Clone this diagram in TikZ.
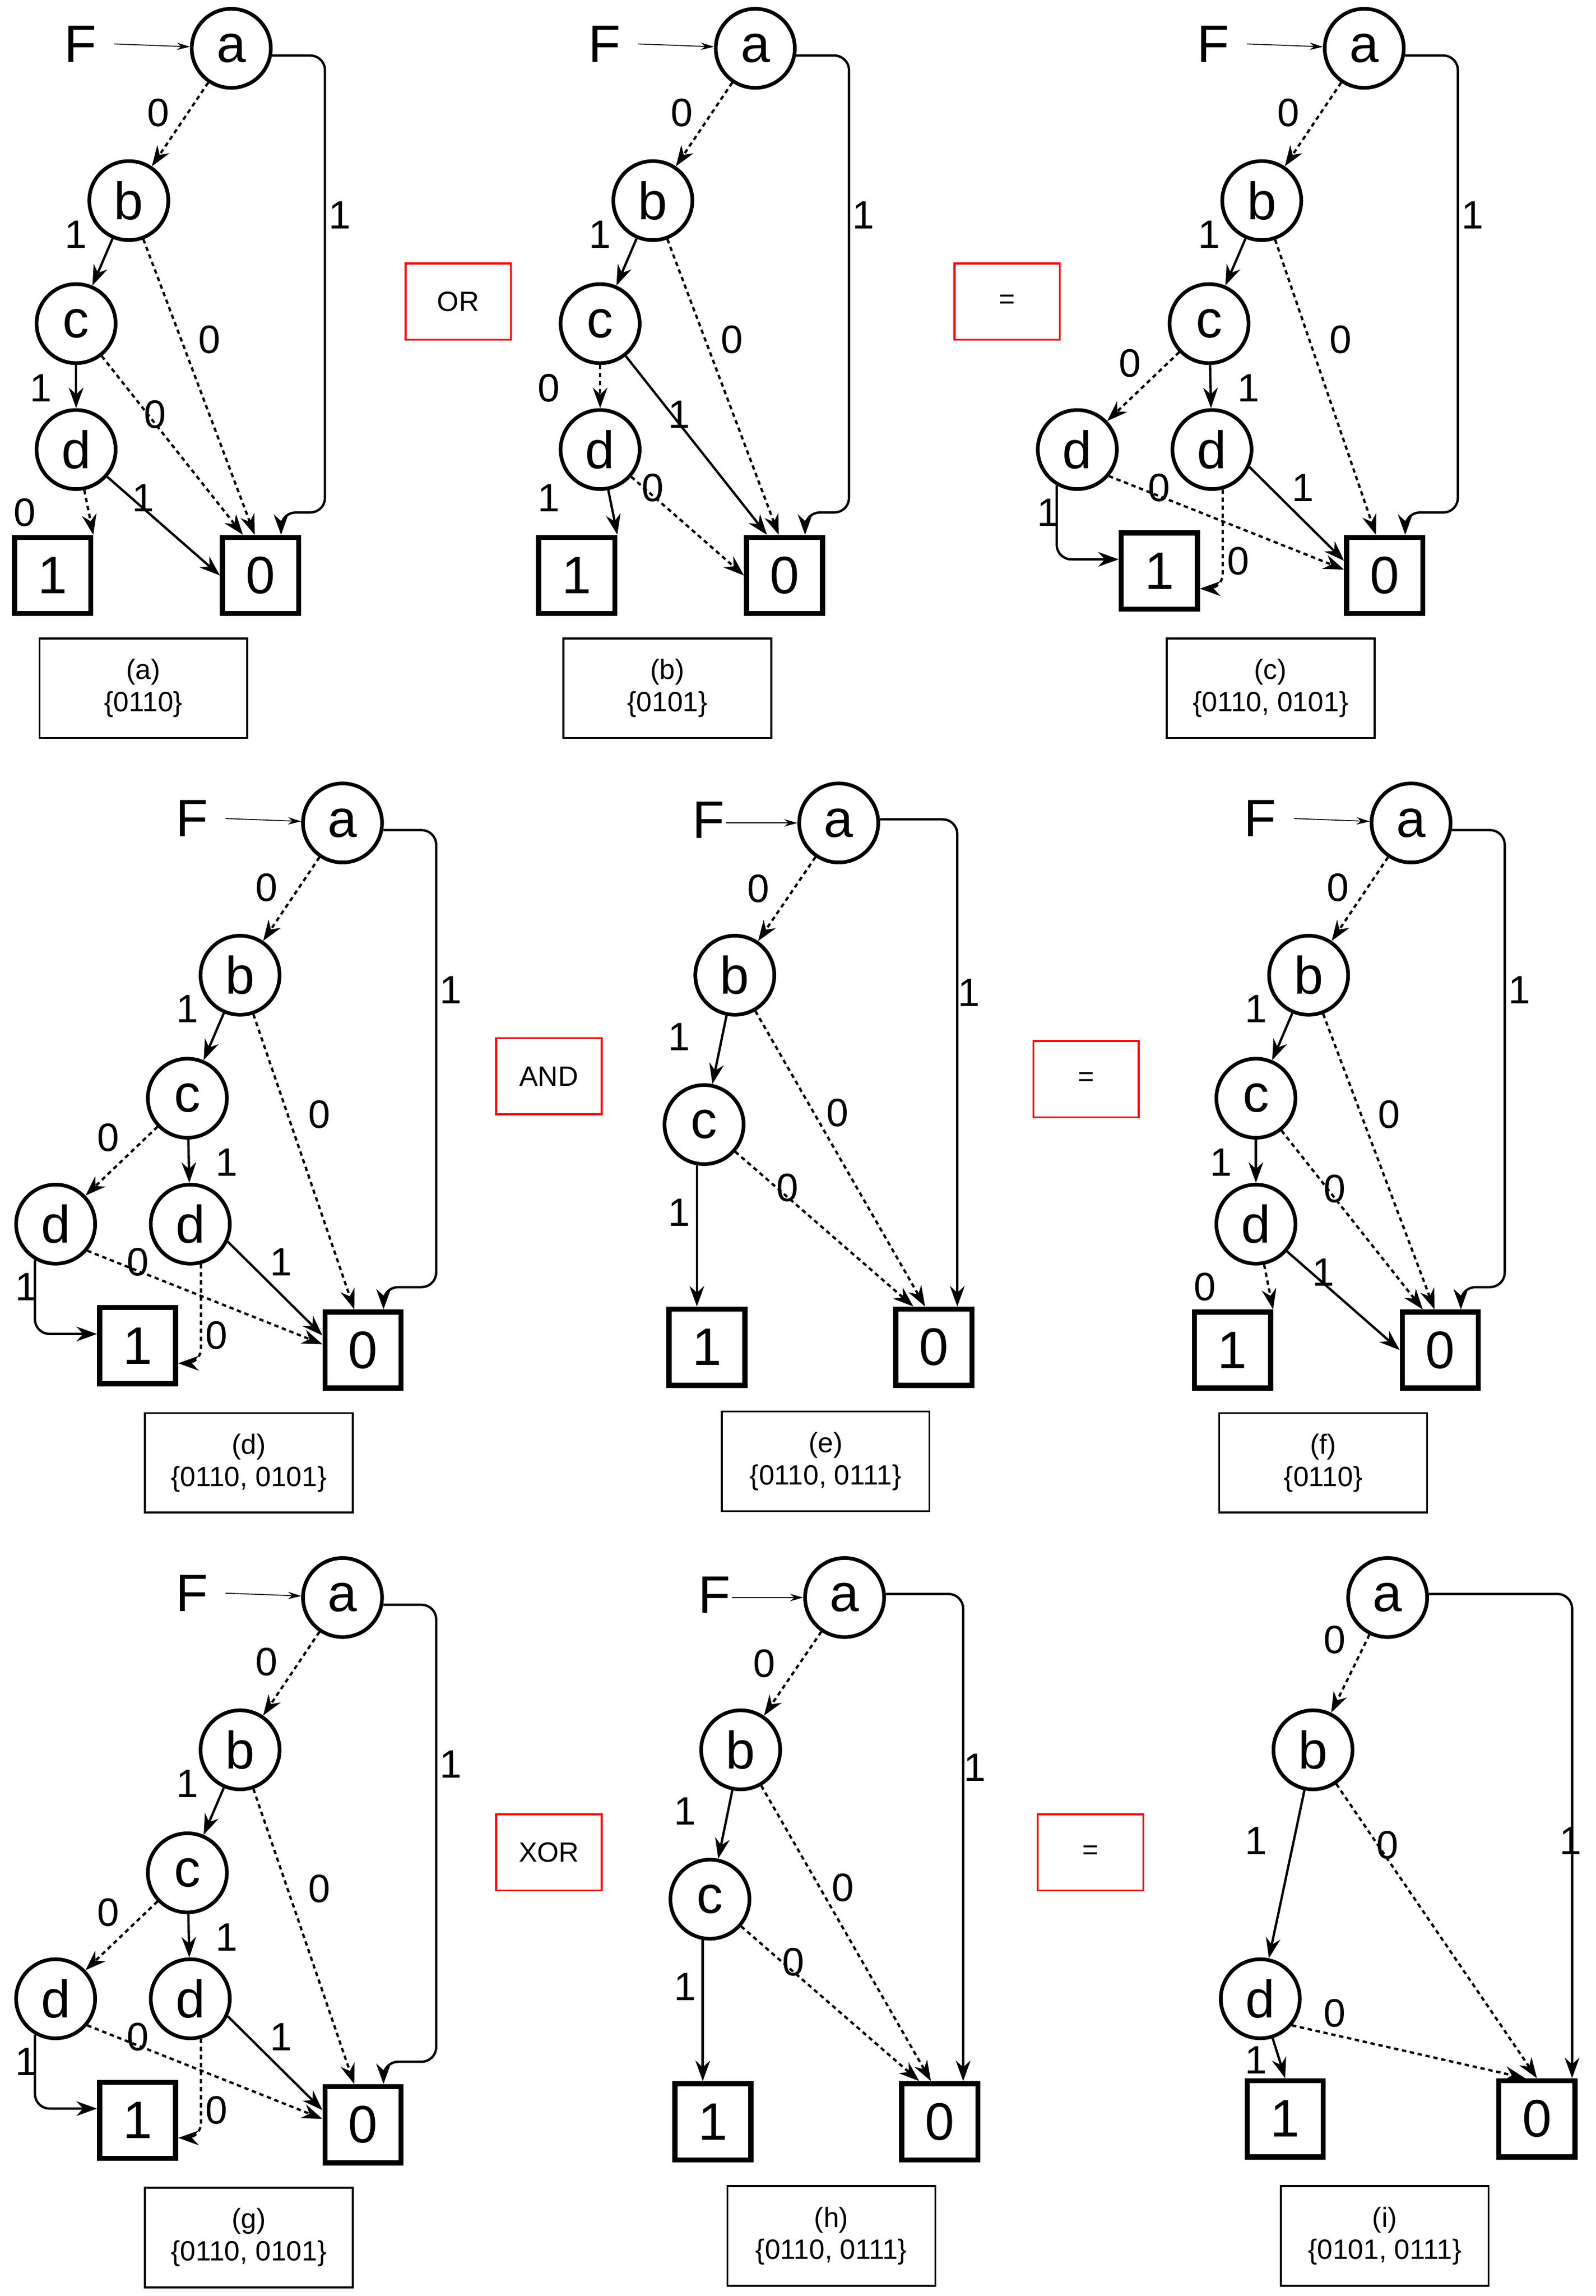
\documentclass[tikz,border=0pt]{standalone}
\usepackage{fontspec}
\setmainfont{Liberation Sans}
\usetikzlibrary{arrows.meta,calc}
\begin{document}
\begin{tikzpicture}[x=1pt,y=-1pt,
 v/.style={circle,draw,line width=2.5pt,minimum size=54pt,inner sep=0pt,font=\fontsize{36}{36}\selectfont},
 t/.style={rectangle,draw,line width=3.5pt,minimum size=52pt,inner sep=0pt,font=\fontsize{36}{36}\selectfont},
 lb/.style={inner sep=1pt,font=\fontsize{27}{27}\selectfont},
 Fl/.style={inner sep=1pt,font=\fontsize{36}{36}\selectfont},
 cbox/.style={draw,line width=1.3pt,minimum width=142pt,minimum height=68pt,align=center,font=\fontsize{19}{22}\selectfont},
 op/.style={draw=red,line width=1.3pt,minimum width=72pt,minimum height=52pt,font=\fontsize{19}{19}\selectfont},
 sol/.style={line width=1.6pt,-{Stealth[length=14pt,width=10pt]}},
 dsh/.style={sol,dash pattern=on 3pt off 2.5pt},
 fa/.style={line width=0.6pt,-{Stealth[length=9pt,width=5pt]}},
 rc/.style={rounded corners=10pt}]
\useasboundingbox (0,0) rectangle (1090,1568);
\newcommand\pnlA[3]{\begin{scope}[shift={(#1)},name prefix=#2-]
 \node[Fl] (F) at (55,30) {F};
 \node[v] (a) at (158,33) {a};
 \node[v] (b) at (88,137) {b};
 \node[v] (c) at (52,221) {c};
 \node[v] (d) at (52,307) {d};
 \node[t] (one) at (36,393) {1};
 \node[t] (z) at (178,393) {0};
 \coordinate (fs) at (78,30);
 \draw[fa] (fs) -- (a);
 \draw[dsh] (a) -- (b);
 \draw[sol,rc] (a.-10) -| (222,350) -| ($(z.north)+(14,0)$);
 \draw[sol] (b) -- (c);
 \draw[dsh] (b) -- ($(z.north)+(-4,0)$);
 \draw[sol] (c) -- (d);
 \draw[dsh] (c) -- ($(z.north)+(-12,0)$);
 \draw[dsh] (d) -- (one.north east);
 \draw[sol] (d) -- (z.west);
 \node[lb] (l1) at (108,77) {0};
 \node[lb] (l2) at (232,147) {1};
 \node[lb] (l3) at (52,160) {1};
 \node[lb] (l4) at (143,232) {0};
 \node[lb] (l5) at (28,265) {1};
 \node[lb] (l6) at (106,283) {0};
 \node[lb] (l7) at (17,350) {0};
 \node[lb] (l8) at (98,340) {1};
 \node[cbox] (cp) at (98,470) {(#3)\\\{0110\}};
\end{scope}}
\newcommand\pnlC[4]{\begin{scope}[shift={(#1)},name prefix=#2-]
 \node[Fl] (F) at (829,30) {F};
 \node[v] (a) at (932,33) {a};
 \node[v] (b) at (862,137) {b};
 \node[v] (c) at (826,221) {c};
 \node[v] (d1) at (736,307) {d};
 \node[v] (d2) at (828,307) {d};
 \node[t] (one) at (792,390) {1};
 \node[t] (z) at (946,393) {0};
 \coordinate (fs) at (852,30);
 \draw[fa] (fs) -- (a);
 \draw[dsh] (a) -- (b);
 \draw[sol,rc] (a.-10) -| (996,350) -| ($(z.north)+(14,0)$);
 \draw[sol] (b) -- (c);
 \draw[dsh] (b) -- ($(z.north)+(-6,0)$);
 \draw[dsh] (c) -- (d1);
 \draw[sol] (c) -- (d2);
 \draw[sol,rc] (d1.-120) |- ($(one.west)+(0,-8)$);
 \draw[dsh,rc] (d2.-75) |- ($(one.east)+(0,12)$);
 \draw[dsh] (d1.-40) -- ($(z.west)+(0,-4)$);
 \draw[sol] (d2.-25) -- ($(z.west)+(0,-10)$);
 \node[lb] (l1) at (880,77) {0};
 \node[lb] (l2) at (1006,147) {1};
 \node[lb] (l3) at (826,160) {1};
 \node[lb] (l4) at (916,232) {0};
 \node[lb] (l5) at (772,248) {0};
 \node[lb] (l6) at (853,265) {1};
 \node[lb] (l7) at (716,350) {1};
 \node[lb] (l8) at (792,333) {0};
 \node[lb] (l9) at (890,333) {1};
 \node[lb] (l10) at (846,383) {0};
 \node[cbox] (cp) at (868,470) {(#3)\\\{#4\}};
\end{scope}}
\newcommand\pnlE[3]{\begin{scope}[shift={(#1)},name prefix=#2-]
 \node[Fl] (F) at (484,560) {F};
 \node[v] (a) at (573,562) {a};
 \node[v] (b) at (502,666) {b};
 \node[v] (c) at (481,768) {c};
 \node[t] (one) at (483,920) {1};
 \node[t] (z) at (638,920) {0};
 \coordinate (fs) at (496,562);
 \draw[fa] (fs) -- (a);
 \draw[dsh] (a) -- (b);
 \draw[sol,rc] (a.5) -| ($(z.north)+(16,0)$);
 \draw[sol] (b) -- (c);
 \draw[dsh] (b) -- ($(z.north)+(-6,0)$);
 \draw[sol] (c.-100) -- (c.-100 |- one.north);
 \draw[dsh] (c) -- ($(z.north)+(-14,0)$);
 \node[lb] (l1) at (518,607) {0};
 \node[lb] (l2) at (662,678) {1};
 \node[lb] (l3) at (464,708) {1};
 \node[lb] (l4) at (572,760) {0};
 \node[lb] (l5) at (464,828) {1};
 \node[lb] (l6) at (538,811) {0};
 \node[cbox] (cp) at (564,998) {(#3)\\\{0110, 0111\}};
\end{scope}}
% row 1
\pnlA{0,0}{A}{a}
\begin{scope}[name prefix=B-]
 \node[Fl] (F) at (413,30) {F};
 \node[v] (a) at (516,33) {a};
 \node[v] (b) at (446,137) {b};
 \node[v] (c) at (410,221) {c};
 \node[v] (d) at (410,307) {d};
 \node[t] (one) at (394,393) {1};
 \node[t] (z) at (536,393) {0};
 \coordinate (fs) at (436,30);
 \draw[fa] (fs) -- (a);
 \draw[dsh] (a) -- (b);
 \draw[sol,rc] (a.-10) -| (580,350) -| ($(z.north)+(14,0)$);
 \draw[sol] (b) -- (c);
 \draw[dsh] (b) -- ($(z.north)+(-4,0)$);
 \draw[dsh] (c) -- (d);
 \draw[sol] (c) -- ($(z.north)+(-12,0)$);
 \draw[sol] (d) -- (one.north east);
 \draw[dsh] (d) -- (z.west);
 \node[lb] (l1) at (466,77) {0};
 \node[lb] (l2) at (590,147) {1};
 \node[lb] (l3) at (410,160) {1};
 \node[lb] (l4) at (500,232) {0};
 \node[lb] (l5) at (375,265) {0};
 \node[lb] (l6) at (464,283) {1};
 \node[lb] (l7) at (375,340) {1};
 \node[lb] (l8) at (446,333) {0};
 \node[cbox] (cp) at (456,470) {(b)\\\{0101\}};
\end{scope}
\pnlC{0,0}{C}{c}{0110, 0101}
\node[op] (op1) at (313,206) {OR};
\node[op] (eq1) at (688,206) {=};
% row 2
\pnlC{-698,529}{D}{d}{0110, 0101}
\pnlE{0,0}{E}{e}
\pnlA{806,529}{Fp}{f}
\node[op] (op2) at (375,735) {AND};
\node[op] (eq2) at (742,737) {=};
% row 3
\pnlC{-698,1058}{G}{g}{0110, 0101}
\pnlE{4,529}{H}{h}
\node[op] (op3) at (375,1265) {XOR};
\node[op] (eq3) at (745,1265) {=};
\begin{scope}[name prefix=I-]
 \node[v] (a) at (948,1091) {a};
 \node[v] (b) at (897,1195) {b};
 \node[v] (d) at (861,1365) {d};
 \node[t] (one) at (878,1447) {1};
 \node[t] (z) at (1050,1447) {0};
 \draw[dsh] (a) -- (b);
 \draw[sol,rc] (a.5) -| ($(z.north)+(24,0)$);
 \draw[sol] (b) -- (d);
 \draw[dsh] (b) -- (z.north);
 \draw[sol] (d) -- (one.north);
 \draw[dsh] (d.-40) -- ($(z.north)+(-8,0)$);
 \node[lb] (l1) at (912,1120) {0};
 \node[lb] (l2) at (1073,1257) {1};
 \node[lb] (l3) at (858,1257) {1};
 \node[lb] (l4) at (948,1260) {0};
 \node[lb] (l5) at (858,1407) {1};
 \node[lb] (l6) at (912,1375) {0};
 \node[cbox] (cp) at (946,1527) {(i)\\\{0101, 0111\}};
\end{scope}
\end{tikzpicture}
\end{document}
